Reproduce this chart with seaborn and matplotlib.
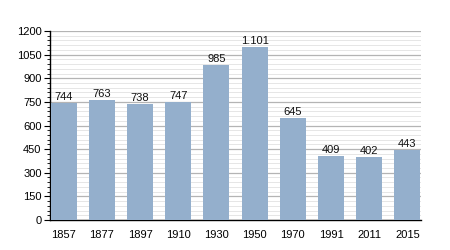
import matplotlib
matplotlib.use("Agg")
import matplotlib.pyplot as plt
from matplotlib.ticker import MultipleLocator
import seaborn as sns
import pandas as pd

years = ["1857", "1877", "1897", "1910", "1930", "1950", "1970", "1991", "2011", "2015"]
population = [744, 763, 738, 747, 985, 1101, 645, 409, 402, 443]
labels = ["744", "763", "738", "747", "985", "1.101", "645", "409", "402", "443"]

sns.set_theme(style="white")
plt.rcParams['font.family'] = ['Liberation Sans', 'DejaVu Sans']

df = pd.DataFrame({"year": years, "pop": population})

fig = plt.figure(figsize=(4.5, 2.5), dpi=100)
ax = fig.add_axes([0.111, 0.12, 0.825, 0.756])

sns.barplot(data=df, x="year", y="pop", color="#94AFCC", saturation=1, width=0.68,
            linewidth=0, edgecolor="none", ax=ax, zorder=3)

ax.set_ylim(0, 1200)
ax.set_xlim(-0.36, 9.36)
ax.yaxis.set_major_locator(MultipleLocator(150))
ax.yaxis.set_minor_locator(MultipleLocator(30))
ax.grid(which="major", axis="y", color="#B4B4B4", linewidth=0.9, zorder=0)
ax.grid(which="minor", axis="y", color="#E6E6E6", linewidth=0.7, zorder=0)
ax.set_axisbelow(True)

for i, (v, t) in enumerate(zip(population, labels)):
    ax.text(i, v + 6, t, ha="center", va="bottom", fontsize=8, color="#111111")

ax.set_xlabel("")
ax.set_ylabel("")
for s in ["top", "right"]:
    ax.spines[s].set_visible(False)
ax.spines["left"].set_color("black")
ax.spines["bottom"].set_color("black")
ax.spines["left"].set_linewidth(1)
ax.spines["bottom"].set_linewidth(1)
ax.tick_params(axis="y", which="major", left=True, length=4, width=0.8, labelsize=8, pad=2, colors="black")
ax.tick_params(axis="y", which="minor", left=True, length=2, width=0.6, colors="black")
ax.tick_params(axis="x", which="both", bottom=False, labelsize=8, pad=1, colors="black")

fig.savefig("out.png", dpi=100)
